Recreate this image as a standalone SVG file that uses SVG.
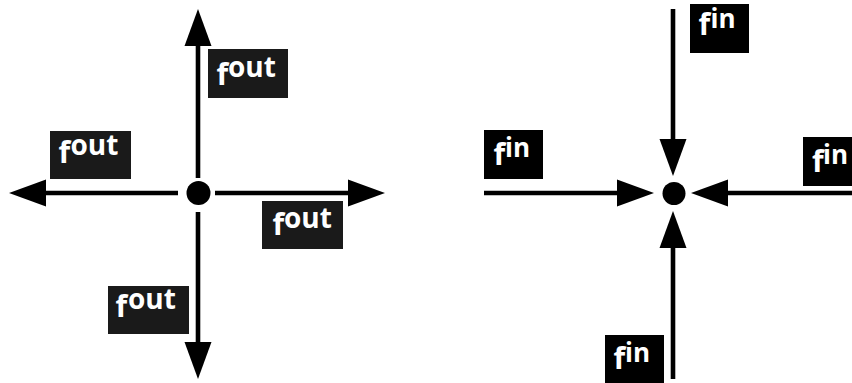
<svg xmlns="http://www.w3.org/2000/svg" width="852" height="383" viewBox="0 0 852 383">
<style>
.ln{stroke:#000;stroke-width:4.6;fill:none;marker-end:url(#ah)}
.dot{fill:#000}
.bo{fill:#1a1a1a}
.bi{fill:#000}
.t{fill:#fff;font-family:"Open Sans","DejaVu Sans",sans-serif;font-weight:bold}
.f{font-size:30px}
.s{font-size:28px}
.si{font-size:26px}
</style>
<defs>
<marker id="ah" markerUnits="userSpaceOnUse" markerWidth="38" markerHeight="28" refX="0" refY="13.5" orient="auto" overflow="visible">
<path d="M0,0 L37,13.5 L0,27 z" fill="#000"/>
</marker>
</defs>
<rect width="852" height="383" fill="#fff"/>
<g id="connectors">
<path class="ln" d="M198,178 V46"/>
<path class="ln" d="M178,193 H46"/>
<path class="ln" d="M215,193 H348"/>
<path class="ln" d="M198,212 V342"/>
<path class="ln" d="M673,9 V139"/>
<path class="ln" d="M484,193 H617"/>
<path class="ln" d="M852,193 H728"/>
<path class="ln" d="M673,379 V248"/>
</g>
<g id="node-out-center"><circle class="dot" cx="198.5" cy="193" r="12"/></g>
<g id="node-in-center"><circle class="dot" cx="674" cy="193.5" r="11.5"/></g>
<g id="label-out-up">
<rect class="bo" x="208" y="49" width="80" height="49"/>
<text class="t f" x="216.5" y="85">f</text><text class="t s" x="228" y="77">out</text>
</g>
<g id="label-out-left">
<rect class="bo" x="50" y="131" width="81" height="48"/>
<text class="t f" x="58.5" y="163">f</text><text class="t s" x="70.5" y="155">out</text>
</g>
<g id="label-out-right">
<rect class="bo" x="262" y="201" width="81" height="48"/>
<text class="t f" x="272.5" y="235">f</text><text class="t s" x="284" y="227.5">out</text>
</g>
<g id="label-out-down">
<rect class="bo" x="108" y="286" width="81" height="48"/>
<text class="t f" x="115.5" y="316.5">f</text><text class="t s" x="128" y="309">out</text>
</g>
<g id="label-in-top">
<rect class="bi" x="690" y="4" width="59" height="49"/>
<text class="t f" x="698.5" y="35">f</text><text class="t si" x="710.5" y="28">in</text>
</g>
<g id="label-in-left">
<rect class="bi" x="484" y="130" width="59" height="49"/>
<text class="t f" x="493.5" y="165">f</text><text class="t si" x="505" y="157">in</text>
</g>
<g id="label-in-right">
<rect class="bi" x="803" y="137" width="59" height="49"/>
<text class="t f" x="812" y="171.5">f</text><text class="t si" x="823" y="163.5">in</text>
</g>
<g id="label-in-bottom">
<rect class="bi" x="605" y="335" width="59" height="48"/>
<text class="t f" x="613.5" y="369">f</text><text class="t si" x="625" y="362">in</text>
</g>
</svg>
